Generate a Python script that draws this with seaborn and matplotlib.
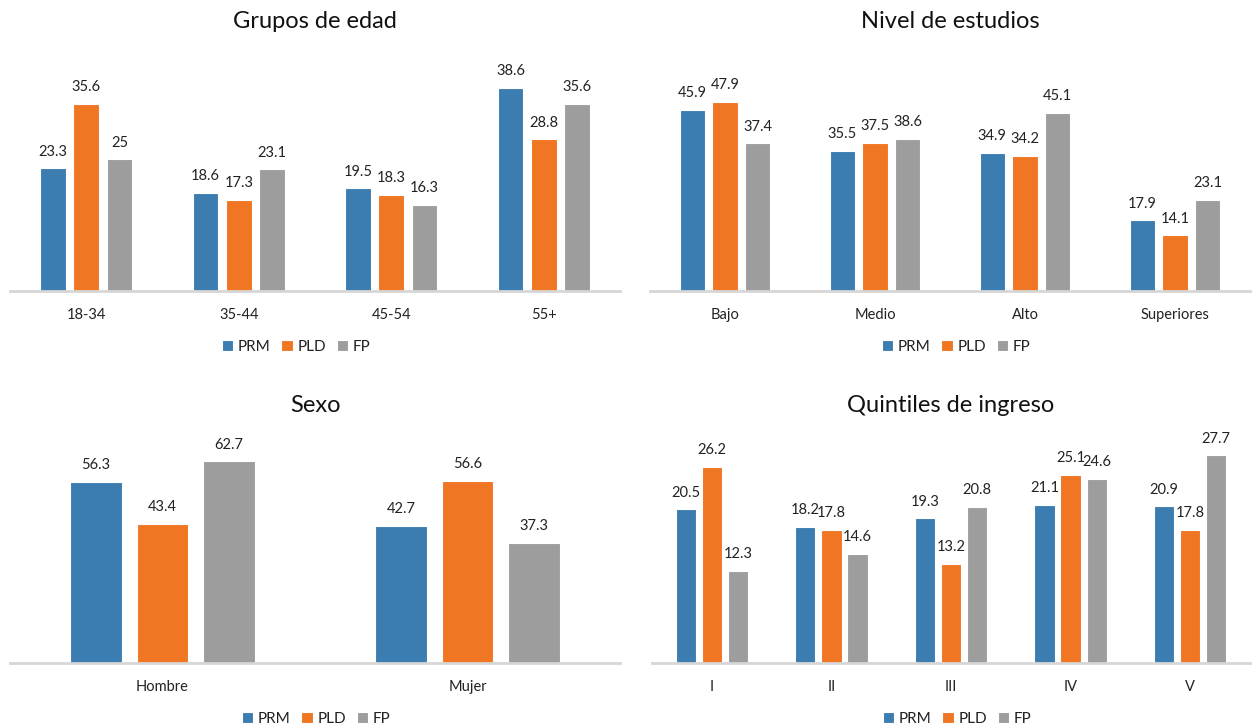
import matplotlib
matplotlib.use("Agg")
import matplotlib.pyplot as plt
import seaborn as sns
import pandas as pd

series = ["PRM", "PLD", "FP"]
colors = ["#3C7DB1", "#F07623", "#9D9D9D"]

edad_cats = ["18-34", "35-44", "45-54", "55+"]
edad_prm = [23.3, 18.6, 19.5, 38.6]
edad_pld = [35.6, 17.3, 18.3, 28.8]
edad_fp = [25, 23.1, 16.3, 35.6]

est_cats = ["Bajo", "Medio", "Alto", "Superiores"]
est_prm = [45.9, 35.5, 34.9, 17.9]
est_pld = [47.9, 37.5, 34.2, 14.1]
est_fp = [37.4, 38.6, 45.1, 23.1]

sexo_cats = ["Hombre", "Mujer"]
sexo_prm = [56.3, 42.7]
sexo_pld = [43.4, 56.6]
sexo_fp = [62.7, 37.3]

quin_cats = ["I", "II", "III", "IV", "V"]
quin_prm = [20.5, 18.2, 19.3, 21.1, 20.9]
quin_pld = [26.2, 17.8, 13.2, 25.1, 17.8]
quin_fp = [12.3, 14.6, 20.8, 24.6, 27.7]

sns.set_theme(style="white")
plt.rcParams["font.family"] = ["Lato", "DejaVu Sans"]
plt.rcParams["text.color"] = "#222222"

W, H = 1252, 728
fig = plt.figure(figsize=(W / 100, H / 100), dpi=100)


def frame(cats, prm, pld, fp):
    rows = []
    for s, vals in zip(series, [prm, pld, fp]):
        for c, v in zip(cats, vals):
            rows.append({"cat": c, "serie": s, "val": v})
    return pd.DataFrame(rows)


def panel(rect, title, cats, prm, pld, fp, ymax, leg_xy):
    ax = fig.add_axes(rect)
    df = frame(cats, prm, pld, fp)
    sns.barplot(data=df, x="cat", y="val", hue="serie", hue_order=series,
                order=cats, palette=colors, width=0.654, gap=0.22,
                edgecolor="white", linewidth=0.8, ax=ax, saturation=1)
    for cont in ax.containers:
        ax.bar_label(cont, labels=[f"{v:g}" for v in cont.datavalues],
                     padding=7, fontsize=10.5, color="#222222")
    ax.set_xlim(-0.5, len(cats) - 0.5)
    ax.set_ylim(0, ymax)
    ax.set_yticks([])
    ax.set_xlabel("")
    ax.set_ylabel("")
    for sp in ["top", "right", "left"]:
        ax.spines[sp].set_visible(False)
    ax.spines["bottom"].set_color("#D6D6D6")
    ax.spines["bottom"].set_linewidth(2)
    ax.tick_params(axis="x", length=0, pad=12, labelsize=10.5, colors="#222222")
    ax.set_title(title, fontsize=17, pad=19, color="#111111")
    handles, labels = ax.get_legend_handles_labels()
    if ax.get_legend() is not None:
        ax.get_legend().remove()
    ax.legend(handles, labels, loc="center", bbox_to_anchor=leg_xy,
              bbox_transform=fig.transFigure, ncol=3, frameon=False,
              handlelength=0.75, handleheight=0.75, handletextpad=0.3,
              columnspacing=0.7, fontsize=11)
    return ax


panel([10 / W, 1 - 291 / H, 610 / W, 237 / H], "Grupos de edad",
      edad_cats, edad_prm, edad_pld, edad_fp, 45, (296 / W, 1 - 347 / H))
panel([650 / W, 1 - 291 / H, 600 / W, 237 / H], "Nivel de estudios",
      est_cats, est_prm, est_pld, est_fp, 60, (956 / W, 1 - 347 / H))
panel([10 / W, 1 - 663 / H, 610 / W, 225 / H], "Sexo",
      sexo_cats, sexo_prm, sexo_pld, sexo_fp, 70, (316 / W, 1 - 719 / H))
panel([652 / W, 1 - 663 / H, 598 / W, 225 / H], "Quintiles de ingreso",
      quin_cats, quin_prm, quin_pld, quin_fp, 30, (957 / W, 1 - 719 / H))

fig.savefig("out.png", dpi=100)
